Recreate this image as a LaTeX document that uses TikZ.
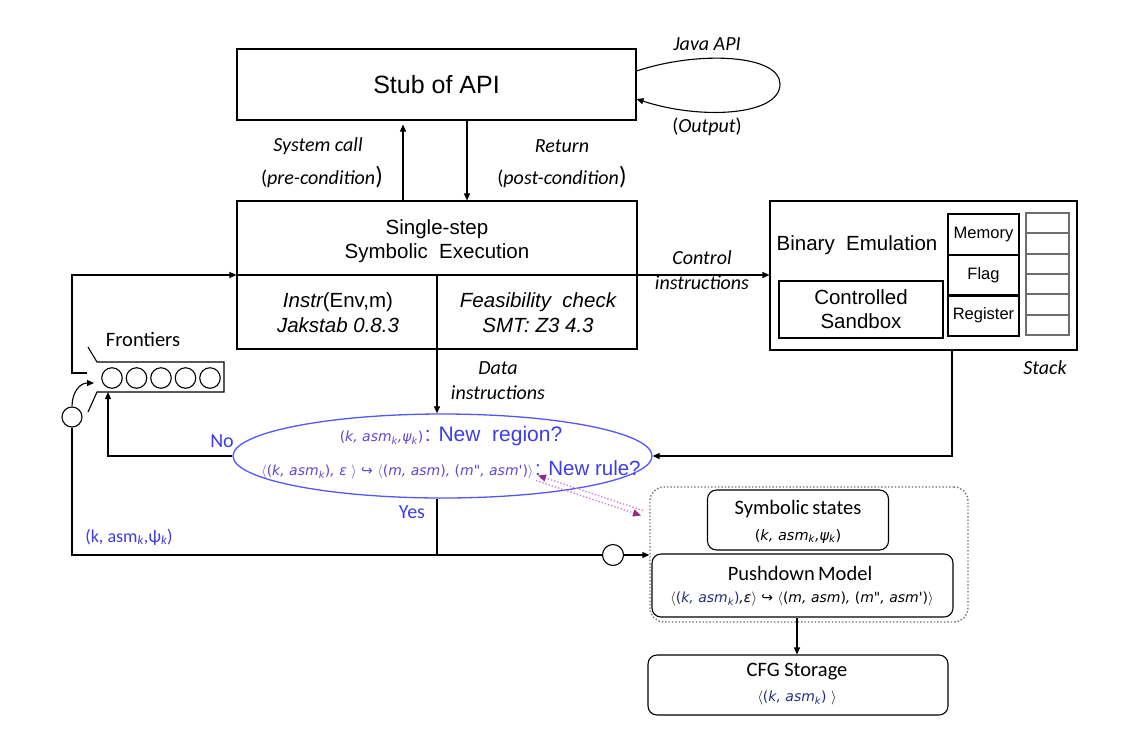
\documentclass[tikz,border=0pt]{standalone}
\usepackage{fix-cm}
\usepackage{fontspec}
\setmainfont{Liberation Sans}
\newfontfamily\calfont{Carlito}
\newfontfamily\dvfont{DejaVu Sans}
\usetikzlibrary{arrows.meta,shapes.geometric}
\definecolor{tblue}{RGB}{60,60,235}
\definecolor{eblue}{RGB}{85,85,255}
\definecolor{fblue}{RGB}{95,70,215}
\definecolor{navyt}{RGB}{35,45,125}
\definecolor{purp}{RGB}{150,40,140}
\definecolor{pinkd}{RGB}{215,120,210}
\definecolor{stackgray}{RGB}{110,110,110}
\newcommand\fsz[1]{\fontsize{#1}{#1}\selectfont}
\newcommand\sub[1]{\textsubscript{#1}}
\newcommand\hk{{\upshape ↪}}
\begin{document}
\begin{tikzpicture}[x=1pt,y=-1pt,line width=1.1pt,
  >={Triangle[length=7pt,width=6pt]},
  every node/.style={inner sep=1pt},
  box/.style={draw,rectangle,inner sep=0pt},
  rbox/.style={draw,rectangle,rounded corners=9pt,inner sep=0pt},
  arial/.style={font=\fontsize{20.5}{24}\selectfont,align=center},
  cal/.style={font=\calfont\itshape\fontsize{20}{25}\selectfont,align=center},
  calup/.style={font=\calfont\fontsize{20.5}{25}\selectfont,align=center},
  form/.style={font=\dvfont\itshape\fontsize{14}{16}\selectfont},
  ring/.style={draw,circle,inner sep=0pt,minimum size=20pt,line width=1.1pt},
  stk/.style={draw=stackgray,line width=1.8pt}]
\useasboundingbox (0,0) rectangle (1126,750);

% ---- Stub of API
\node[box,minimum width=399pt,minimum height=71pt] (stub) at (436.5,84.5) {};
\node[font=\fontsize{25}{28}\selectfont] (stubt) at (436.5,85) {Stub of API};
\draw[->] (stub.east |- 0,71) .. controls (700,50) and (780,55) .. (780,84)
          .. controls (780,116) and (700,120) .. (stub.east |- 0,99);
\node[cal] (java) at (707,44) {Java API};
\node[cal] (outp) at (707,127) {{\upshape(}Output{\upshape)}};

% ---- Single-step symbolic execution
\node[box,minimum width=400pt,minimum height=148pt] (sse) at (437,275) {};
\node[arial] (sset) at (437,241) {Single-step\\Symbolic\ \ Execution};
\draw (sse.west) -- (sse.east);
\coordinate (mid) at (437,0);
\draw (sse.center) -- (sse.south);
\node[arial,font=\itshape\fontsize{20.5}{25}\selectfont] (instr) at (338,312.5) {Instr{\upshape(Env,m)}\\Jakstab 0.8.3};
\node[arial,font=\itshape\fontsize{20.5}{25}\selectfont] (feas) at (538,312.5) {Feasibility\ \ check\\SMT: Z3 4.3};

% arrows between stub and sse
\coordinate (upx) at (403,0);
\coordinate (dnx) at (467,0);
\draw[->] (sse.north -| upx) -- ([yshift=-4pt]stub.south -| upx);
\draw[->] (stub.south -| dnx) -- (sse.north -| dnx);
\node[cal] (sysc) at (318,146) {System call};
\node[cal] (prec) at (322,177) {{\upshape(}pre-condition{\upshape\fsz{25})}};
\node[cal] (ret) at (562,146) {Return};
\node[cal] (postc) at (562,177) {{\upshape(}post-condition{\upshape\fsz{25})}};

% ---- Binary emulation
\node[box,minimum width=307pt,minimum height=149pt] (bin) at (923.5,275.5) {};
\node[arial] (bint) at (857,245) {Binary\ \ Emulation};
\node[box,minimum width=164pt,minimum height=57pt,arial] (sand) at (861,309.5) {Controlled\\Sandbox};
\node[box,line width=2.3pt,minimum width=71pt,minimum height=40.7pt,font=\fontsize{16.5}{18}\selectfont] (mem) at (983.5,234.3) {Memory};
\node[box,line width=2.3pt,minimum width=71pt,minimum height=40.7pt,font=\fontsize{16.5}{18}\selectfont] (flag) at (983.5,275) {Flag};
\node[box,line width=2.3pt,minimum width=71pt,minimum height=40.7pt,font=\fontsize{16.5}{18}\selectfont] (reg) at (983.5,315.7) {Register};
% stack
\draw[stk] (1026,213) rectangle (1069,335);
\foreach \yy in {233.3,253.7,274,294.3,314.7} \draw[stk] (1026,\yy) -- (1069,\yy);
\node[cal] (stack) at (1045,368) {Stack};

% control instructions
\draw[->] (sse.east) -- (bin.west |- sse.east);
\node[cal] (ctrl) at (702,270) {Control\\instructions};

% ---- Frontiers
\node[calup] (frt) at (143,339) {Frontiers};
\draw (88,347) -- (97,362) -- (224,362) -- (224,392) -- (97,392) -- (88,412);
\foreach \i/\xx in {1/112,2/136.5,3/161,4/185.5,5/210}
  \node[ring,minimum size=20.5pt] (fq\i) at (\xx,378) {};
\coordinate (fout) at (87,373);
\coordinate (fbot) at (108,392);
\coordinate (fin) at (94,383);
\node[ring] (c1) at (72,417) {};
\coordinate (lx) at (72,0);
\draw[->] (fout) -- (lx |- fout) -- (lx |- sse.west) -- (sse.west);
\draw[->] (c1.north) .. controls (72,392) and (80,383) .. (fin);

% ---- Decision ellipse
\node[ellipse,draw=eblue,line width=1.3pt,minimum width=419pt,minimum height=84pt,inner sep=0pt] (q) at (442.5,456) {};
\node[text=tblue,inner sep=0pt] (q1) at (451,436) {{\color{fblue}\dvfont\itshape\fsz{14}{\upshape(}k, asm\sub{k},ψ\sub{k}{\upshape)}}\,{\fsz{21}: New\ \ region?}};
\node[text=tblue,inner sep=0pt] (q2) at (451,470) {{\color{fblue}\dvfont\itshape\fsz{14}$\langle${\upshape(}k, asm\sub{k}{\upshape)}, ε $\rangle$ \hk\ $\langle${\upshape(}m, asm{\upshape)}, {\upshape(}m", asm'{\upshape)}$\rangle$}\,{\fsz{20.5}: New rule?}};
\draw[->] (sse.south -| mid) -- (q.north -| mid);
\node[cal] (data) at (498,381) {Data\\instructions};
\draw[->] (q.west) -| (fbot);
\node[text=tblue,font=\calfont\fontsize{20}{22}\selectfont] (no) at (222,441) {No};
\coordinate (bx) at (952,0);
\draw[->] (bin.south -| bx) |- (q.east);

% ---- Yes branch
\coordinate (yj) at (437,555);
\node[ring,minimum size=21pt] (c2) at (613,555) {};
\draw (q.south -| mid) -- (yj) -- (lx |- yj) -- (c1.south);
\draw (yj) -- (c2.west);
\node[text=tblue,font=\calfont\fontsize{20}{22}\selectfont] (yes) at (412,512) {Yes};
\node[text=tblue,font=\calfont\fontsize{18}{20}\selectfont] (kl) at (129,537) {(k, asm\sub{\itshape k},ψ\sub{\itshape k})};

% ---- Storage group
\node[draw=stackgray,dotted,line width=1.4pt,rounded corners=14pt,minimum width=318pt,minimum height=135pt,inner sep=0pt] (grp) at (809,554.5) {};
\draw[->] (c2.east) -- (grp.west |- c2.east);
\node[rbox,minimum width=181pt,minimum height=60pt] (sym) at (798,520) {};
\node[calup] (symt) at (798,509) {Symbolic\,states};
\node[form,font=\dvfont\itshape\fsz{14.5}] (symf) at (798,536) {{\upshape(}k, asm\sub{k},ψ\sub{k}{\upshape)}};
\node[rbox,minimum width=301pt,minimum height=63pt] (pd) at (802.5,585.5) {};
\node[calup] (pdt) at (800,573) {Pushdown\,Model};
\node[form] (pdf) at (802,599) {$\langle${\color{navyt}{\upshape(}k, asm\sub{k}{\upshape)}},ε$\rangle$ \hk\ $\langle${\upshape(}m, asm{\upshape)}, {\upshape(}m", asm'{\upshape)}$\rangle$};
\node[rbox,minimum width=300pt,minimum height=60pt] (cfg) at (798,685) {};
\node[calup] (cfgt) at (797,672) {CFG Storage};
\node[form] (cfgf) at (797,698) {$\langle${\color{navyt}{\upshape(}k, asm\sub{k}{\upshape)}} $\rangle$};
\coordinate (ax) at (797,0);
\draw[->] (pd.south -| ax) -- (cfg.north -| ax);

% ---- dotted purple double connector
\coordinate (pa) at (537,478);
\coordinate (pb) at (642,513);
\draw[pinkd,dotted,line width=1.3pt,-{Triangle[length=8pt,width=7pt,fill=purp,color=purp]}] ([shift={(1,-2.5)}]pb) -- ([shift={(1,-2.5)}]pa);
\draw[pinkd,dotted,line width=1.3pt,-{Triangle[length=8pt,width=7pt,fill=purp,color=purp]}] ([shift={(-1,2.5)}]pa) -- ([shift={(-1,2.5)}]pb);
\end{tikzpicture}
\end{document}
